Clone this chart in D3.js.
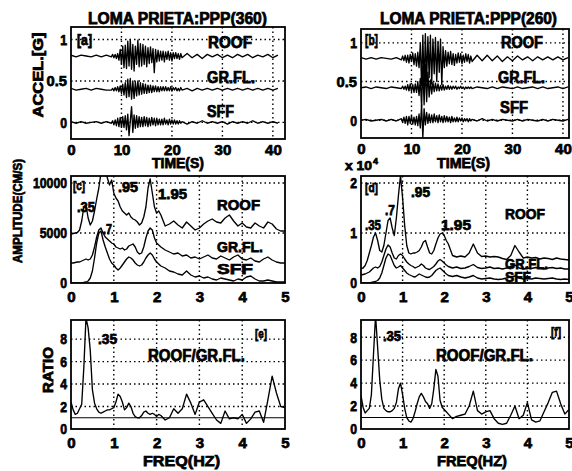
<!DOCTYPE html>
<html>
<head>
<meta charset="utf-8">
<script src="https://cdn.jsdelivr.net/npm/d3@7"></script>
<style>
  body { margin: 0; background: #fff; }
  svg text { font-family: "Liberation Sans", Arial, sans-serif; font-weight: bold; fill: #000; }
</style>
</head>
<body>
<div id="chart"></div>
<script>
// time samples (s): coarse before the shaking, fine during it, coarse in the tail
const tSamples = d3.range(0, 8, 1).concat(d3.range(8, 22, 0.25), d3.range(22, 41.5, 1));
// frequency samples (Hz)
const fSamples = d3.range(0, 2.125, 0.05).concat(d3.range(2.2, 5.05, 0.1)).map(v => +v.toFixed(2));

const traceNames = ['ROOF', 'GR.FL.', 'SFF'];
const offsetsA = [0.8, 0.4, 0];
const offsetsB = [0.8, 0.42, 0];

// accelerations (g), deviation from each trace's offset -- PPP(360)
const roofA = [0.01,-0.01,0.01,0,-0.01,0.01,-0.01,0.01,
  -0.01,0.02,-0.02,0.02, -0.03,0.03,-0.05,0.08, -0.10,0.12,-0.14,0.13, -0.15,0.18,-0.12,0.20,
  -0.16,0.14,-0.18,0.12, -0.10,0.19,-0.13,0.15, -0.12,0.14,-0.10,0.12, -0.13,0.10,-0.09,0.11,
  -0.08,0.09,-0.20,0.08, -0.07,0.07,-0.06,0.06, -0.05,0.06,-0.07,0.05, -0.04,0.06,-0.05,0.04,
  -0.06,0.04,-0.03,0.04, -0.03,0.03,-0.04,0.03,
  -0.02,0.03,-0.02,0.02,-0.03,0.02,-0.01,0.02,-0.02,0.01,-0.02,0.02,-0.01,0.02,-0.02,0.01,-0.01,0.02,-0.02,0.01];
const grflA = [0.01,-0.01,0,0.01,-0.01,0.01,0,-0.01,
  -0.01,0.01,-0.02,0.02, -0.02,0.03,-0.03,0.04, -0.05,0.06,-0.07,0.08, -0.10,0.12,-0.09,0.13,
  -0.12,0.10,-0.11,0.09, -0.08,0.10,-0.07,0.08, -0.06,0.07,-0.05,0.06, -0.05,0.05,-0.04,0.05,
  -0.04,0.04,-0.03,0.04, -0.03,0.03,-0.03,0.03, -0.02,0.03,-0.02,0.03, -0.02,0.02,-0.02,0.03,
  -0.02,0.02,-0.01,0.02, -0.02,0.01,-0.02,0.02,
  -0.01,0.01,-0.02,0.01,-0.01,0.01,-0.01,0.01,-0.01,0.01,-0.01,0.01,-0.01,0.01,-0.01,0.01,-0.01,0.01,-0.01,0.01];
const sffA = [0.01,-0.01,0.01,-0.01,0,0.01,-0.01,0.01,
  -0.01,0.02,-0.03,0.03, -0.04,0.05,-0.05,0.06, -0.06,0.07,-0.06,0.08, -0.09,0.10,-0.16,0.02,
  0.19,-0.12,0.09,-0.07, 0.08,-0.06,0.07,-0.05, 0.06,-0.05,0.07,-0.04, 0.06,-0.05,0.05,-0.04,
  0.06,-0.03,0.05,-0.04, 0.05,-0.03,0.04,-0.03, 0.04,-0.03,0.05,-0.02, 0.03,-0.03,0.04,-0.02,
  0.03,-0.02,0.03,-0.02, 0.02,-0.02,0.02,-0.01,
  0.01,-0.02,0.01,-0.01,0.02,-0.01,0.01,-0.01,0.01,-0.02,0.01,-0.01,0.01,-0.01,0.02,-0.01,0.01,-0.01,0.01,-0.01];

// PPP(260)
const roofB = [0.01,-0.01,0.01,-0.01,0.01,0,-0.01,0.01,
  -0.02,0.03,-0.03,0.04, -0.05,0.04,-0.06,0.05, -0.04,0.07,-0.08,0.06, -0.10,0.08,-0.12,0.20,
  -0.35,0.30,-0.38,0.32, -0.30,0.28,-0.25,0.30, -0.33,0.25,-0.20,0.27, -0.30,0.22,-0.18,0.25,
  -0.34,0.15,-0.12,0.10, -0.10,0.08,-0.07,0.09, -0.08,0.06,-0.09,0.05, -0.06,0.07,-0.05,0.06,
  -0.07,0.04,-0.05,0.06, -0.04,0.05,-0.06,0.03,
  -0.04,0.04,-0.03,0.04,-0.03,0.03,-0.04,0.02,-0.03,0.03,-0.02,0.02,-0.03,0.02,-0.02,0.02,-0.02,0.02,-0.02,0.01];
const grflB = [0,0.01,-0.01,0.01,0,-0.01,0.01,0,
  -0.01,0.02,-0.02,0.02, -0.03,0.04,-0.04,0.05, -0.05,0.04,-0.06,0.05, -0.06,0.08,-0.10,0.12,
  -0.25,0.28,-0.22,0.30, -0.18,0.20,-0.12,0.10, -0.08,0.07,-0.05,0.06, -0.04,0.05,-0.04,0.03,
  -0.03,0.04,-0.03,0.02, -0.02,0.03,-0.02,0.02, -0.02,0.02,-0.01,0.02, -0.02,0.01,-0.01,0.02,
  -0.01,0.01,-0.02,0.01, -0.01,0.01,-0.01,0.01,
  -0.01,0.01,0,-0.01,0.01,-0.01,0.01,0,-0.01,0.01,-0.01,0,0.01,-0.01,0.01,-0.01,0,0.01,-0.01,0.01];
const sffB = [0,0.01,-0.01,0,0.01,-0.01,0.01,-0.01,
  0.02,-0.03,0.04,-0.04, 0.05,-0.06,0.05,-0.04, 0.06,-0.05,0.04,-0.06, 0.05,-0.07,0.08,-0.10,
  0.20,-0.22,0.15,-0.06, 0.10,-0.04,0.08,-0.03, 0.07,-0.03,0.08,-0.02, 0.06,-0.03,0.07,-0.02,
  0.05,-0.03,0.06,-0.02, 0.05,-0.02,0.04,-0.03, 0.05,-0.02,0.03,-0.02, 0.04,-0.02,0.03,-0.01,
  0.03,-0.02,0.02,-0.01, 0.02,-0.02,0.02,-0.01,
  0.01,-0.01,0.02,-0.01,0.01,-0.01,0.01,0,-0.01,0.01,-0.01,0.01,0,-0.01,0.01,-0.01,0.01,0,-0.01,0.01];

// Fourier amplitudes (cm/s) -- PPP(360)
const roofC = [4900,4950,5000,5050,5300,6200,7600,7800,6500,5800,
  6200,7200,8400,9500,11000,12000,11500,10500,9800,10300,
  9000,8500,8200,7600,7200,7000,6800,7000,6600,6400,
  6300,6100,5800,6000,6600,7600,9500,10400,9000,7600,
  7000,7200,6800,
  5700,5900,6200,5800,5500,6100,5700,5300,5500,5900,
  6200,6400,6100,6000,6500,6800,6200,5700,6000,5600,
  5500,6000,5700,5500,6100,5900,5400,5200,5200];
const grflC = [2000,2000,2050,2100,2100,2200,2300,2400,2300,2400,
  2800,3600,4600,5300,5500,5000,4600,4400,4200,4000,
  3900,3600,3500,3400,3500,3300,3400,3700,3800,3900,
  3600,3100,2900,3000,3600,4500,5200,5500,5300,4500,
  4000,3800,3600,
  3300,3100,2900,3000,2700,2800,2500,2600,2400,2600,
  2800,2500,2400,2700,2500,2300,2600,2800,2400,2300,
  2500,2200,2100,2400,2600,2300,2100,2000,2000];
const sffC = [0,0,0,0,0,0,50,100,200,500,
  1200,2500,4000,5000,5200,4300,3600,3000,2400,2000,
  1800,1500,1300,1500,1800,2100,2400,2600,2500,2300,
  2000,1800,1700,1800,2100,2500,2800,3000,2800,2400,
  2100,1900,1700,
  1500,1200,1100,900,800,1200,800,600,700,500,
  600,400,300,500,400,300,200,400,300,600,
  700,400,200,200,300,200,100,100,100];

// Fourier amplitudes (x 10^4 cm/s) -- PPP(260)
const roofD = [0.29,0.30,0.35,0.45,0.60,0.75,0.92,1.00,0.85,0.65,
  0.62,0.75,1.00,1.25,1.30,1.10,0.95,1.30,1.75,2.15,
  1.70,1.15,0.75,0.60,0.58,0.60,0.60,0.62,0.65,0.72,
  0.82,0.85,0.72,0.60,0.58,0.65,0.78,0.90,0.98,1.00,
  0.95,0.85,0.78,
  0.55,0.52,0.54,0.52,0.60,0.78,0.60,0.53,0.54,0.52,
  0.53,0.52,0.49,0.47,0.55,0.75,0.62,0.50,0.52,0.50,
  0.51,0.48,0.50,0.49,0.47,0.50,0.48,0.47,0.46];
const grflD = [0.16,0.17,0.18,0.20,0.22,0.26,0.30,0.32,0.30,0.33,
  0.42,0.55,0.68,0.76,0.72,0.60,0.50,0.48,0.55,0.58,
  0.55,0.48,0.42,0.38,0.35,0.33,0.30,0.32,0.34,0.38,
  0.35,0.30,0.28,0.27,0.30,0.33,0.38,0.44,0.47,0.44,
  0.40,0.36,0.33,
  0.30,0.32,0.29,0.30,0.33,0.37,0.31,0.29,0.30,0.32,
  0.29,0.30,0.28,0.30,0.33,0.36,0.30,0.28,0.30,0.29,
  0.31,0.30,0.28,0.30,0.31,0.29,0.30,0.28,0.28];
const sffD = [0,0,0,0,0,0.01,0.02,0.03,0.05,0.10,
  0.20,0.35,0.50,0.58,0.55,0.45,0.35,0.30,0.32,0.35,
  0.30,0.25,0.20,0.17,0.15,0.13,0.12,0.15,0.18,0.16,
  0.14,0.12,0.11,0.12,0.15,0.20,0.25,0.28,0.30,0.26,
  0.22,0.18,0.15,
  0.13,0.15,0.12,0.10,0.12,0.15,0.10,0.08,0.09,0.10,
  0.08,0.07,0.08,0.10,0.12,0.14,0.10,0.08,0.09,0.08,
  0.10,0.09,0.08,0.09,0.10,0.08,0.07,0.08,0.07];

// spectral ratio ROOF/GR.FL.
const ratioE = [2.4,1.7,1.3,1.4,1.8,2.2,5.5,9.9,9.0,7.0,
  3.5,2.3,1.8,1.5,1.4,1.5,1.6,1.7,1.7,1.8,
  1.9,2.4,3.1,2.9,2.4,1.7,1.9,2.3,2.0,1.4,
  1.1,1.0,1.0,1.2,1.5,1.6,1.4,1.3,1.4,1.3,
  1.1,1.3,1.2,
  0.8,1.0,1.8,1.4,1.8,3.1,2.3,1.3,2.4,2.6,
  2.0,1.4,0.8,0.5,1.6,0.9,1.0,0.9,1.3,0.5,
  0.9,1.5,1.6,0.6,2.6,4.7,3.2,2.0,1.9];
const ratioF = [2.9,1.9,1.4,1.6,1.8,3.0,6.5,9.9,7.1,4.3,
  2.6,1.8,1.6,1.5,1.5,1.6,1.8,2.3,3.5,4.0,
  3.0,1.8,1.0,0.7,0.6,0.9,1.5,2.2,2.8,3.1,
  2.8,2.4,2.2,1.8,2.2,3.5,5.2,4.6,2.5,1.9,
  1.7,1.5,1.3,
  0.9,1.1,1.2,1.3,2.0,3.3,1.6,1.3,1.5,1.6,
  0.9,0.5,0.4,0.5,1.2,2.0,0.9,1.2,2.3,0.8,
  0.6,0.7,1.5,2.3,3.2,3.3,2.2,1.3,1.7];

const timeTicks = [0, 10, 20, 30, 40];
const freqTicks = [0, 1, 2, 3, 4, 5];

const width = 572;
const height = 471;
const heavy = 0.75;   // extra stroke on the text, the scan is very bold

const svg = d3.select('#chart')
  .append('svg')
  .attr('width', width)
  .attr('height', height);

let clipCount = 0;

function panel(box, xDom, yDom, xTicks, yTicks, xPad) {
  const x = d3.scaleLinear().domain(xDom).range([box.l, box.r]);
  const y = d3.scaleLinear().domain(yDom).range([box.b, box.t]);
  const id = 'clip' + (++clipCount);
  svg.append('clipPath').attr('id', id)
    .append('rect')
    .attr('x', box.l).attr('y', box.t)
    .attr('width', box.r - box.l).attr('height', box.b - box.t);

  const grid = svg.append('g')
    .attr('stroke', '#000')
    .attr('stroke-width', 1.4)
    .attr('stroke-dasharray', '1.5,3');
  grid.selectAll('.vx')
    .data(xTicks.filter(t => t > xDom[0] && t < xDom[1]))
    .join('line')
    .attr('x1', d => x(d)).attr('x2', d => x(d))
    .attr('y1', box.t).attr('y2', box.b);
  grid.selectAll('.hy')
    .data(yTicks.filter(t => t > yDom[0] && t < yDom[1]))
    .join('line')
    .attr('y1', d => y(d)).attr('y2', d => y(d))
    .attr('x1', box.l).attr('x2', box.r);

  const plot = svg.append('g').attr('clip-path', `url(#${id})`);

  // axes (labels only)
  svg.append('g')
    .attr('transform', `translate(0,${box.b})`)
    .call(d3.axisBottom(x).tickValues(xTicks).tickSize(0).tickPadding(xPad).tickFormat(d3.format('')))
    .attr('font-size', 15)
    .call(g => g.select('.domain').remove())
    .selectAll('text').attr('stroke', '#000').attr('stroke-width', heavy);

  svg.append('g')
    .attr('transform', `translate(${box.l},0)`)
    .call(d3.axisLeft(y).tickValues(yTicks).tickSize(0).tickPadding(4).tickFormat(d3.format('')))
    .attr('font-size', 15)
    .call(g => g.select('.domain').remove())
    .selectAll('text')
    .attr('stroke', '#000').attr('stroke-width', heavy)
    .attr('textLength', function () { return this.textContent.length * 6.8; })
    .attr('lengthAdjust', 'spacingAndGlyphs');

  return { x, y, plot, box };
}

function frame(p) {
  svg.append('rect')
    .attr('x', p.box.l).attr('y', p.box.t)
    .attr('width', p.box.r - p.box.l).attr('height', p.box.b - p.box.t)
    .attr('fill', 'none').attr('stroke', '#000').attr('stroke-width', 1.8);
}

function curve(p, xs, ys, off) {
  const line = d3.line()
    .x((d, i) => p.x(xs[i]))
    .y(d => p.y(d + off));
  p.plot.append('path')
    .datum(ys)
    .attr('d', line)
    .attr('fill', 'none')
    .attr('stroke', '#000')
    .attr('stroke-width', 1.35)
    .attr('stroke-linejoin', 'round');
}

function label(x, y, text, size, len, rotate) {
  const t = svg.append('text')
    .attr('font-size', size)
    .attr('stroke', '#000').attr('stroke-width', heavy)
    .text(text);
  if (len) t.attr('textLength', len).attr('lengthAdjust', 'spacingAndGlyphs');
  if (rotate) {
    t.attr('text-anchor', 'middle').attr('transform', `translate(${x},${y}) rotate(-90)`);
  } else {
    t.attr('x', x).attr('y', y);
  }
  return t;
}

// ---- (a) / (b) acceleration histories
const pa = panel({ l: 71, r: 285, t: 27, b: 139 }, [0, 42.4], [-0.2, 1.15], timeTicks, [0, 0.5, 1], 5);
[roofA, grflA, sffA].forEach((s, i) => curve(pa, tSamples, s, offsetsA[i]));
frame(pa);

const pb = panel({ l: 361, r: 569, t: 29, b: 138 }, [0, 41.2], [-0.23, 1.18], timeTicks, [0, 0.5, 1], 5);
[roofB, grflB, sffB].forEach((s, i) => curve(pb, tSamples, s, offsetsB[i]));
frame(pb);

// ---- (c) / (d) Fourier amplitude spectra
const pc = panel({ l: 71, r: 285, t: 176, b: 283 }, [0, 5], [0, 10700], freqTicks, [0, 5000, 10000], 8);
[roofC, grflC, sffC].forEach(s => curve(pc, fSamples, s, 0));
frame(pc);

const pd = panel({ l: 361, r: 569, t: 176, b: 283 }, [0, 5], [0, 2.14], freqTicks, [0, 1, 2], 8);
[roofD, grflD, sffD].forEach(s => curve(pd, fSamples, s, 0));
frame(pd);

// ---- (e) / (f) spectral ratios
const pe = panel({ l: 71, r: 285, t: 320, b: 429 }, [0, 5], [0, 9.7], freqTicks, [0, 2, 4, 6, 8], 8);
curve(pe, fSamples, ratioE, 0);
const pf = panel({ l: 361, r: 569, t: 320, b: 429 }, [0, 5], [0, 9.5], freqTicks, [0, 2, 4, 6, 8], 8);
curve(pf, fSamples, ratioF, 0);
[pe, pf].forEach(p => {
  svg.append('line')
    .attr('x1', p.box.l).attr('x2', p.box.r)
    .attr('y1', p.y(1)).attr('y2', p.y(1))
    .attr('stroke', '#000').attr('stroke-width', 1.1);
  frame(p);
});

// ---- titles and axis labels
label(88, 24, 'LOMA PRIETA:PPP(360)', 16, 179);
label(380, 24, 'LOMA PRIETA:PPP(260)', 16, 177);
label(43, 75, 'ACCEL.[G]', 14, 85, true);
label(22, 211, 'AMPLITUDE(CM/S)', 13, 104, true);
label(53, 370, 'RATIO', 14, 46, true);
label(152, 168, 'TIME(S)', 14, 52);
label(437, 168, 'TIME(S)', 14, 53);
label(143, 466, 'FREQ(HZ)', 15, 77);
label(437, 466, 'FREQ(HZ)', 15, 70);
label(345, 170, 'x 10', 13, 27);
label(373, 164, '4', 9);

// ---- annotations
label(77, 45, '[a]', 14, 15);
label(208, 48, traceNames[0], 16, 44);
label(207, 83, traceNames[1], 16, 48);
label(207, 117, traceNames[2], 16, 27);

label(365, 45, '[b]', 14, 13);
label(501, 48, traceNames[0], 16, 42);
label(498, 83, traceNames[1], 16, 47);
label(500, 113, traceNames[2], 16, 28);

label(73, 190, '[c]', 13, 12);
label(77, 212, '.35', 14, 18);
label(103, 234, '.7', 14, 9);
label(118, 192, '.95', 14, 20);
label(158, 199, '1.95', 14, 29);
label(217, 210, traceNames[0], 15, 43);
label(217, 252, traceNames[1], 15, 46);
label(217, 274, traceNames[2], 14, 36);

label(365, 192, '[d]', 13, 13);
label(365, 230, '.35', 14, 16);
label(385, 215, '.7', 14, 10);
label(411, 197, '.95', 14, 19);
label(441, 230, '1.95', 14, 30);
label(505, 219, traceNames[0], 15, 40);
label(505, 269, traceNames[1], 15, 43);
label(505, 282, traceNames[2], 15, 26);

label(98, 344, '.35', 14, 19);
label(255, 338, '[e]', 13, 12);
label(148, 361, 'ROOF/GR.FL.', 16, 97);

label(383, 341, '.35', 14, 18);
label(551, 336, '[f]', 13, 10);
label(436, 361, 'ROOF/GR.FL.', 16, 97);
</script>
</body>
</html>
